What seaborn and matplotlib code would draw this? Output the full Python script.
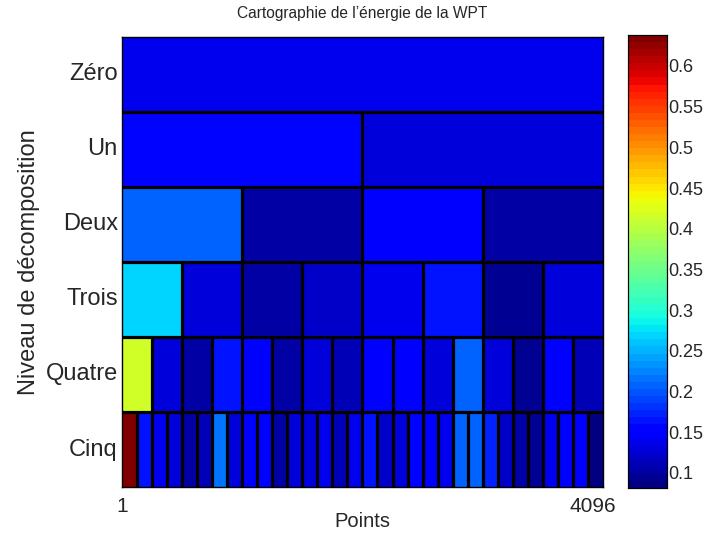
import numpy as np
import pandas as pd
import matplotlib
matplotlib.use("Agg")
import matplotlib.pyplot as plt
import matplotlib.transforms as mtransforms
import seaborn as sns

# Energy of every node of the wavelet packet tree, one list per decomposition level
level_names = ["Zéro", "Un", "Deux", "Trois", "Quatre", "Cinq"]
energy_l0 = [0.138]
energy_l1 = [0.158, 0.132]
energy_l2 = [0.205, 0.105, 0.148, 0.105]
energy_l3 = [0.266, 0.127, 0.105, 0.118, 0.137, 0.162, 0.094, 0.127]
energy_l4 = [0.420, 0.127, 0.100, 0.162, 0.143, 0.105, 0.127, 0.116,
             0.143, 0.148, 0.127, 0.206, 0.130, 0.094, 0.143, 0.110]
energy_l5 = [0.638, 0.162, 0.137, 0.127, 0.105, 0.116, 0.212, 0.132,
             0.145, 0.157, 0.100, 0.130, 0.132, 0.137, 0.113, 0.140,
             0.165, 0.124, 0.127, 0.152, 0.143, 0.135, 0.206, 0.206,
             0.176, 0.118, 0.105, 0.094, 0.135, 0.143, 0.150, 0.0815]
x_tick_labels = ["1", "4096"]
cbar_ticks = [0.1, 0.15, 0.2, 0.25, 0.3, 0.35, 0.4, 0.45, 0.5, 0.55, 0.6]

levels = [energy_l0, energy_l1, energy_l2, energy_l3, energy_l4, energy_l5]
n_cols = len(energy_l5)

# Expand every level onto the finest grid so each node covers its time span
grid = np.vstack([np.repeat(lv, n_cols // len(lv)) for lv in levels])
df = pd.DataFrame(grid, index=level_names)

sns.set_style("white")
plt.rcParams["font.family"] = ["Liberation Sans", "DejaVu Sans"]

fig = plt.figure(figsize=(7.03, 5.33), dpi=100)
ax = fig.add_axes([0.1735, 0.0863, 0.6842, 0.8443])
cax = fig.add_axes([0.8933, 0.0844, 0.0555, 0.8500])

cmap = plt.get_cmap("jet", 64)
all_vals = np.concatenate([np.asarray(lv) for lv in levels])
sns.heatmap(df, ax=ax, cbar_ax=cax, cmap=cmap,
            vmin=all_vals.min(), vmax=all_vals.max(),
            xticklabels=False, yticklabels=True)

# Node boundaries
sep_lw = 2.3
ax.hlines(np.arange(1, len(levels)), 0, n_cols, colors="black", lw=sep_lw)
for k, lv in enumerate(levels):
    step = n_cols // len(lv)
    xs = np.arange(step, n_cols, step)
    if len(xs):
        ax.vlines(xs, k, k + 1, colors="black", lw=sep_lw)

for s in ax.spines.values():
    s.set_visible(True)
    s.set_color("black")
    s.set_linewidth(1.0)

ax.set_yticklabels(level_names, rotation=0, fontsize=17)
ax.tick_params(axis="y", length=0, pad=3)
ax.set_xticks([0, n_cols])
ax.set_xticklabels(x_tick_labels, fontsize=15)
ax.tick_params(axis="x", length=0, pad=7)
lbl = ax.get_xticklabels()[-1]
lbl.set_transform(lbl.get_transform() + mtransforms.ScaledTranslation(-10 / 100, 0, fig.dpi_scale_trans))

ax.set_xlabel("Points", fontsize=14.5, labelpad=-3)
ax.set_ylabel("Niveau de décomposition", fontsize=17, labelpad=4)
ax.set_title("Cartographie de l\u2019énergie de la WPT", fontsize=11.2, pad=14)

# Colour bar
cax.set_yticks(cbar_ticks)
cax.set_yticklabels([f"{t:g}" for t in cbar_ticks], fontsize=13)
cax.tick_params(axis="y", direction="in", left=True, right=True, length=4,
                width=0.8, pad=1, labelsize=13)
for s in cax.spines.values():
    s.set_visible(True)
    s.set_color("black")
    s.set_linewidth(0.8)

fig.savefig("out.png", dpi=100)
